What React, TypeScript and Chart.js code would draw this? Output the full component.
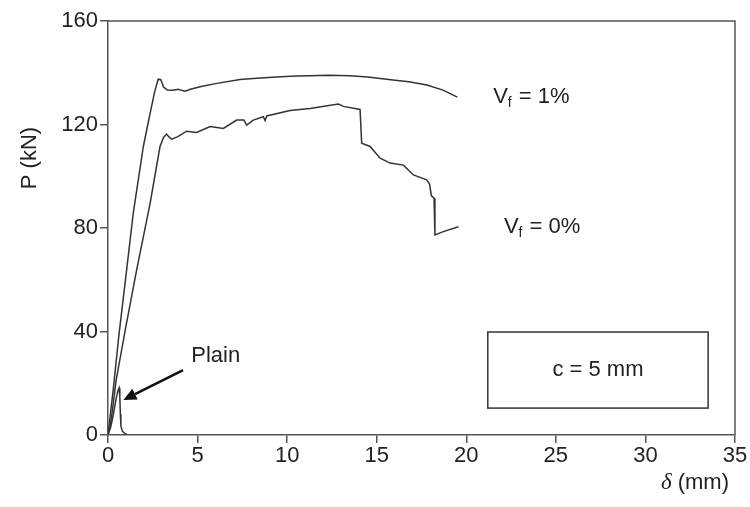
import React, { useEffect, useRef } from "react";
import { Chart, registerables } from "chart.js";

Chart.register(...registerables);

// Vf = 1% curve
const vf1X = [0, 0.3, 0.6, 1.04, 1.41, 1.97, 2.35, 2.6, 2.8, 2.95, 3.1, 3.31, 3.6, 3.93, 4.1, 4.3, 4.6, 5.14, 6, 7.37, 8.5, 9.42, 10.5, 11.28, 12.3, 13.5, 14.5, 15.9, 16.8, 17.8, 18.7, 19.5];
const vf1Y = [0, 18, 38, 63.8, 85.7, 111.4, 124.3, 132.5, 137.5, 137.3, 134.5, 133.3, 133.2, 133.6, 133.2, 132.9, 133.6, 134.6, 135.8, 137.4, 138, 138.4, 138.7, 138.8, 139, 138.8, 138.4, 137.2, 136.5, 135.3, 133.3, 130.6];

// Vf = 0% curve
const vf0X = [0, 0.2, 0.45, 1.0, 1.6, 2.35, 2.9, 3.1, 3.27, 3.4, 3.55, 3.9, 4.39, 4.95, 5.7, 6.44, 7.18, 7.59, 7.74, 8.11, 8.67, 8.77, 8.86, 10.16, 11.28, 12.86, 13.14, 14.07, 14.16, 14.63, 15.19, 15.75, 16.49, 17.05, 17.79, 17.95, 18.05, 18.2, 18.25, 18.72, 19.56];
const vf0Y = [0, 7, 21, 42, 63.8, 89.5, 111.4, 115, 116.3, 115.2, 114.3, 115.3, 117.4, 116.9, 119.2, 118.5, 121.7, 121.7, 119.8, 121.7, 123.0, 121.5, 123.3, 125.4, 126.2, 127.9, 127, 125.8, 112.8, 111.5, 107.0, 105.1, 104.3, 100.5, 98.6, 97, 92.5, 91.5, 77.3, 78.6, 80.5];

// Plain specimen
const plainX = [0, 0.15, 0.3, 0.45, 0.55, 0.62, 0.66, 0.69, 0.72, 0.8, 0.95, 1.05];
const plainY = [0, 3, 8, 14, 17, 18.2, 15, 8, 3.5, 1.5, 0.5, 0.2];

const xTicks = [0, 5, 10, 15, 20, 25, 30, 35];
const yTicks = [0, 40, 80, 120, 160];

const LINE = "#333333";
const AXIS = "#555555";
const TEXT = "#222222";
const FONT = "'Liberation Sans', Arial, Helvetica, sans-serif";

const overlay = {
  id: "overlay",
  afterDraw(chart: any) {
    const ctx = chart.ctx as CanvasRenderingContext2D;
    const { left, right, top, bottom } = chart.chartArea;
    const xs = chart.scales.x;
    const ys = chart.scales.y;
    const px = (v: number) => xs.getPixelForValue(v);
    const py = (v: number) => ys.getPixelForValue(v);
    ctx.save();
    // top & right frame
    ctx.strokeStyle = AXIS;
    ctx.lineWidth = 1.5;
    ctx.beginPath();
    ctx.moveTo(left, top);
    ctx.lineTo(right, top);
    ctx.lineTo(right, bottom);
    ctx.stroke();

    // box
    ctx.strokeStyle = "#333";
    ctx.lineWidth = 1.5;
    const bx0 = px(21.2), bx1 = px(33.5), by0 = py(39.8), by1 = py(10.4);
    ctx.strokeRect(bx0, by0, bx1 - bx0, by1 - by0);
    ctx.fillStyle = TEXT;
    ctx.font = `22px ${FONT}`;
    ctx.textAlign = "center";
    ctx.textBaseline = "middle";
    ctx.fillText("c = 5 mm", (bx0 + bx1) / 2, (by0 + by1) / 2);

    // Vf labels
    const vLabel = (x: number, y: number, rest: string) => {
      ctx.textAlign = "left";
      ctx.textBaseline = "middle";
      ctx.font = `22px ${FONT}`;
      ctx.fillText("V", x, y);
      const w = ctx.measureText("V").width;
      ctx.font = `14px ${FONT}`;
      ctx.fillText("f", x + w, y + 6);
      const w2 = ctx.measureText("f").width;
      ctx.font = `22px ${FONT}`;
      ctx.fillText(rest, x + w + w2 + 1, y);
    };
    vLabel(px(21.5), py(130.5), " = 1%");
    vLabel(px(22.1), py(80.3), " = 0%");

    // Plain label and arrow
    ctx.font = `22px ${FONT}`;
    ctx.textAlign = "left";
    ctx.textBaseline = "middle";
    ctx.fillText("Plain", px(4.65), py(30.5));
    const tx = px(4.19), ty = py(25.1), hx = px(0.86), hy = py(13.5);
    const ang = Math.atan2(hy - ty, hx - tx);
    const hl = 13, hw = 6;
    const bxp = hx - hl * Math.cos(ang), byp = hy - hl * Math.sin(ang);
    ctx.strokeStyle = "#111";
    ctx.lineWidth = 2.5;
    ctx.beginPath();
    ctx.moveTo(tx, ty);
    ctx.lineTo(bxp, byp);
    ctx.stroke();
    ctx.fillStyle = "#111";
    ctx.beginPath();
    ctx.moveTo(hx, hy);
    ctx.lineTo(bxp + hw * Math.sin(ang), byp - hw * Math.cos(ang));
    ctx.lineTo(bxp - hw * Math.sin(ang), byp + hw * Math.cos(ang));
    ctx.closePath();
    ctx.fill();

    // axis titles
    ctx.fillStyle = TEXT;
    ctx.font = `22px ${FONT}`;
    ctx.textAlign = "right";
    ctx.textBaseline = "middle";
    const mm = " (mm)";
    const tr = right - 6;
    ctx.fillText(mm, tr, 483);
    const wmm = ctx.measureText(mm).width;
    ctx.font = `italic 23px 'Liberation Serif', 'DejaVu Serif', serif`;
    ctx.fillText("\u03b4", tr - wmm, 483);

    ctx.save();
    ctx.translate(30, 158);
    ctx.rotate(-Math.PI / 2);
    ctx.textAlign = "center";
    ctx.font = `22px ${FONT}`;
    ctx.fillText("P (kN)", 0, 0);
    ctx.restore();

    ctx.restore();
  },
};

export default function App() {
  const ref = useRef<HTMLCanvasElement>(null);
  useEffect(() => {
    const toPts = (xs: number[], ys: number[]) => xs.map((x, i) => ({ x, y: ys[i] }));
    const ds = (xs: number[], ys: number[]) => ({
      data: toPts(xs, ys),
      showLine: true,
      borderColor: LINE,
      borderWidth: 1.5,
      pointRadius: 0,
      tension: 0,
      fill: false,
    });
    const tickFont = { family: FONT, size: 22 };
    const chart = new Chart(ref.current!, {
      type: "scatter",
      data: { datasets: [ds(vf1X, vf1Y), ds(vf0X, vf0Y), ds(plainX, plainY)] as any },
      options: {
        animation: false,
        responsive: false,
        maintainAspectRatio: false,
        layout: { padding: { top: 21, right: 15, left: 0, bottom: 0 } },
        plugins: { legend: { display: false }, tooltip: { enabled: false } },
        scales: {
          x: {
            type: "linear",
            min: 0,
            max: 35,
            afterBuildTicks: (axis: any) => {
              axis.ticks = xTicks.map((v) => ({ value: v }));
            },
            afterFit: (s: any) => {
              s.height = 72;
            },
            ticks: { font: tickFont, color: TEXT, padding: 0, maxRotation: 0, autoSkip: false },
            grid: { drawOnChartArea: false, tickLength: 8, color: AXIS, lineWidth: 1.5 },
            border: { color: AXIS, width: 1.5 },
          },
          y: {
            type: "linear",
            min: 0,
            max: 160,
            afterBuildTicks: (axis: any) => {
              axis.ticks = yTicks.map((v) => ({ value: v }));
            },
            afterFit: (s: any) => {
              s.width = 108;
            },
            ticks: { font: tickFont, color: TEXT, padding: 2, autoSkip: false },
            grid: { drawOnChartArea: false, tickLength: 8, color: AXIS, lineWidth: 1.5 },
            border: { color: AXIS, width: 1.5 },
          },
        },
      } as any,
      plugins: [overlay],
    });
    return () => chart.destroy();
  }, []);
  return (
    <div style={{ position: "absolute", left: 0, top: 0, width: 750, height: 507, background: "#fff" }}>
      <canvas ref={ref} width={750} height={507} style={{ display: "block" }} />
    </div>
  );
}
